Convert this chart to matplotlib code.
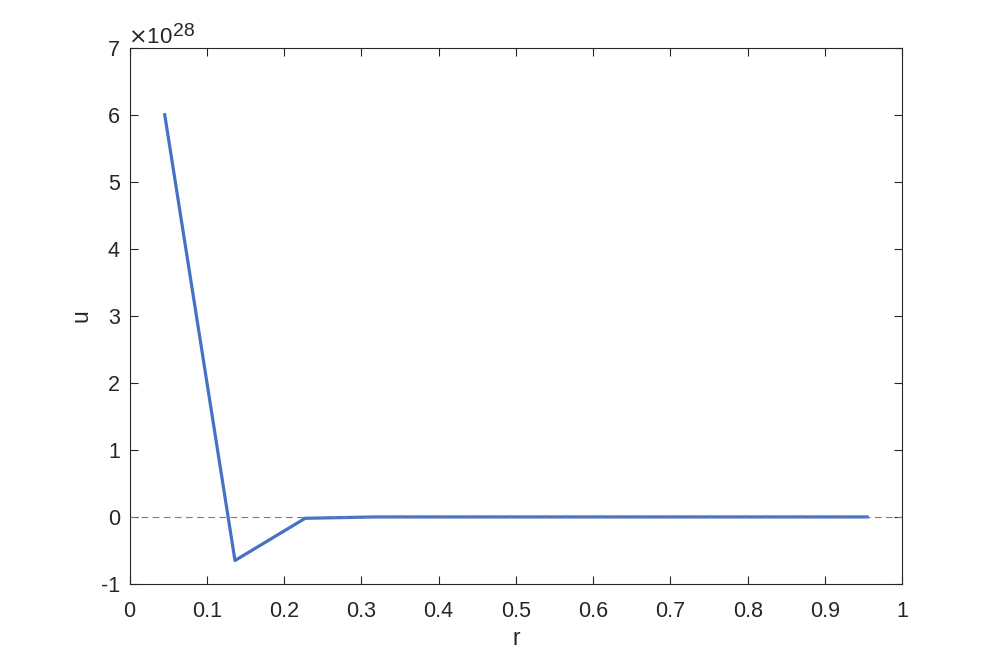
import matplotlib

matplotlib.use("Agg")
import matplotlib.pyplot as plt

# du lieu doc tu hinh (don vi 1e28)
r = [1/22, 3/22, 5/22, 7/22, 9/22, 11/22, 13/22, 15/22, 17/22, 19/22, 21/22]
u = [6.0, -0.65, -0.02, 0.0, 0.0, 0.0, 0.0, 0.0, 0.0, 0.0, 0.0]
x_ticks = [0, 0.1, 0.2, 0.3, 0.4, 0.5, 0.6, 0.7, 0.8, 0.9, 1]
x_ticklabels = ["0", "0.1", "0.2", "0.3", "0.4", "0.5", "0.6", "0.7", "0.8", "0.9", "1"]
y_ticks = [-1, 0, 1, 2, 3, 4, 5, 6, 7]

plt.rcParams["font.family"] = ["Liberation Sans", "DejaVu Sans"]
plt.rcParams["axes.unicode_minus"] = False

fig = plt.figure(figsize=(9.97, 6.58), dpi=100)
ax = fig.add_axes([0.13, 0.1125, 0.775, 0.815])

ax.plot(r, u, color="#4472c4", lw=2.3, zorder=2)
ax.axhline(0, color="#c8623a", ls=(0, (6, 4)), lw=0.8, zorder=3)

ax.set_xlim(0, 1)
ax.set_ylim(-1, 7)
ax.set_xticks(x_ticks)
ax.set_xticklabels(x_ticklabels)
ax.set_yticks(y_ticks)
ax.tick_params(direction="in", length=6, width=0.8, labelsize=15.5, colors="#262626",
               top=True, right=True)
ax.tick_params(axis="x", pad=12)
ax.tick_params(axis="y", pad=7)
for s in ax.spines.values():
    s.set_linewidth(0.8)
    s.set_color("#262626")

ax.set_xlabel("r", fontsize=16.5, color="#262626", labelpad=4)
ax.set_ylabel("u", fontsize=16.5, color="#262626", labelpad=6)
# nhan mu kieu MATLAB o goc tren trai
ax.text(-0.002, 1.0, r"$\times$10", transform=ax.transAxes, fontsize=16,
        color="#262626", ha="left", va="bottom")
ax.text(0.056, 1.014, "28", transform=ax.transAxes, fontsize=14,
        color="#262626", ha="left", va="bottom")

fig.savefig("out.png", dpi=100)
